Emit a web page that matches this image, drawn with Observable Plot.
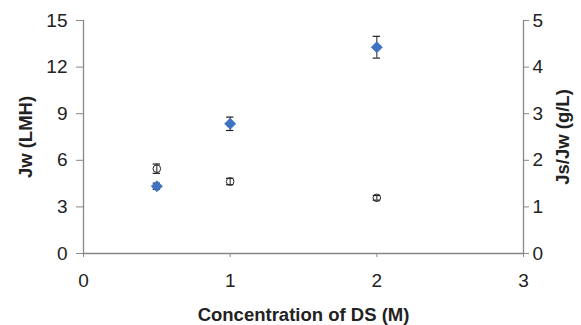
<!DOCTYPE html>
<html>
<head>
<meta charset="utf-8">
<script src="https://cdn.jsdelivr.net/npm/d3@7"></script>
<script src="https://cdn.jsdelivr.net/npm/@observablehq/plot@0.6"></script>
<style>
  html, body { margin: 0; padding: 0; background: #fff; }
  svg { font-family: "Liberation Sans", Arial, sans-serif; }
</style>
</head>
<body>
<div id="chart"></div>
<script>
// Concentration of DS (M)
const conc = [0.5, 1, 2];
// Jw (LMH), left axis
const jw = [4.33, 8.35, 13.28];
const jwErr = [0.2, 0.43, 0.7];
// Js/Jw (g/L), right axis
const jsjw = [1.82, 1.545, 1.195];
const jsjwErr = [0.1, 0.07, 0.05];

const xTicks = [0, 1, 2, 3];
const leftTicks = [0, 3, 6, 9, 12, 15];
const rightTicks = [0, 1, 2, 3, 4, 5];

const ratio = 15 / 5; // right axis maps onto left scale
const cap = 0.025;

const jwData = conc.map((c, i) => ({x: c, y: jw[i], lo: jw[i] - jwErr[i], hi: jw[i] + jwErr[i]}));
const jsData = conc.map((c, i) => ({x: c, y: jsjw[i] * ratio, lo: (jsjw[i] - jsjwErr[i]) * ratio, hi: (jsjw[i] + jsjwErr[i]) * ratio}));
const all = jwData.concat(jsData);

const axisColor = "#888";
const textColor = "#222";

const chart = Plot.plot({
  width: 581,
  height: 325,
  marginLeft: 83,
  marginRight: 58,
  marginTop: 20,
  marginBottom: 72,
  x: {domain: [0, 3]},
  y: {domain: [0, 15]},
  style: {fontSize: "19px", color: textColor},
  marks: [
    Plot.axisX({ticks: xTicks, tickFormat: d => String(d), tickSize: 4, tickPadding: 16, stroke: axisColor, color: textColor, fontSize: 19,
      label: "Concentration of DS (M)", labelAnchor: "center", labelArrow: "none", labelOffset: 67}),
    Plot.axisY({ticks: leftTicks, tickFormat: d => String(d), tickSize: 7, tickPadding: 9, stroke: axisColor, color: textColor, fontSize: 19,
      label: "Jw (LMH)", labelAnchor: "center", labelArrow: "none", labelOffset: 65}),
    Plot.axisY({anchor: "right", ticks: rightTicks.map(t => t * ratio), tickFormat: d => String(d / ratio),
      tickSize: 5, tickPadding: 4, stroke: axisColor, color: textColor, fontSize: 19,
      label: "Js/Jw (g/L)", labelAnchor: "center", labelArrow: "none", labelOffset: 45}),
    Plot.ruleX([0], {stroke: axisColor, strokeWidth: 1.3}),
    Plot.ruleX([3], {stroke: axisColor, strokeWidth: 1.3}),
    Plot.ruleY([0], {stroke: axisColor, strokeWidth: 1.3}),
    // error bars
    Plot.ruleX(all, {x: "x", y1: "lo", y2: "hi", stroke: "#222", strokeWidth: 1}),
    Plot.ruleY(all, {y: "lo", x1: d => d.x - cap, x2: d => d.x + cap, stroke: "#222", strokeWidth: 1.2}),
    Plot.ruleY(all, {y: "hi", x1: d => d.x - cap, x2: d => d.x + cap, stroke: "#222", strokeWidth: 1.2}),
    // markers
    Plot.dot(jsData, {x: "x", y: "y", r: 3.8, stroke: "#222", strokeWidth: 1, fill: "none"}),
    Plot.dot(jwData, {x: "x", y: "y", symbol: "diamond2", r: 5, fill: "#3f72c2", stroke: "#3f72c2", strokeWidth: 0.8})
  ]
});
chart.querySelectorAll('g[aria-label$="axis label"] text').forEach(t => {
  t.setAttribute("font-weight", "bold");
  t.setAttribute("font-size", "18.5");
});
document.getElementById("chart").appendChild(chart);
</script>
</body>
</html>
